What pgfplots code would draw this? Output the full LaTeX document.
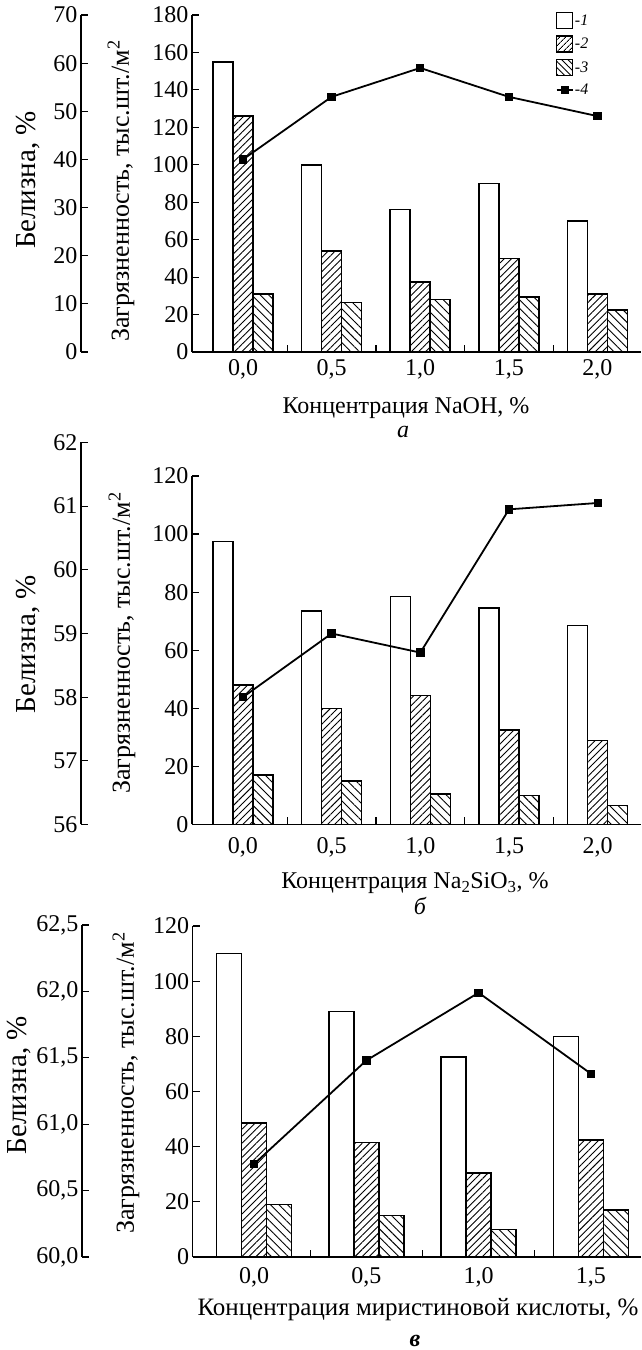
\documentclass[border=0pt]{standalone}
\usepackage{fontspec}
\setmainfont{Liberation Serif}
\usepackage{graphicx}
\usepackage{pgfplots}
\pgfplotsset{compat=1.18}
\usetikzlibrary{patterns.meta}

\newcommand{\tfont}{\fontsize{24}{27}\selectfont}
\newcommand{\xlfont}{\fontsize{24}{27}\selectfont}
\newcommand{\ylfont}{\fontsize{26}{29}\selectfont}
\newcommand{\blfont}{\fontsize{29}{32}\selectfont}

\pgfplotsset{
  mainax/.style={
    scale only axis, anchor=south west,
    axis x line=bottom, axis y line=left,
    axis line style={-, line width=1.4pt},
    every tick/.style={black, line width=1.2pt},
    tick align=inside, major tick length=7pt,
    ymin=0,
    xtick={0.5,1.5,2.5,3.5}, xticklabels={},
    tick label style={font=\tfont},
    /pgf/number format/assume math mode=true,
    clip=false,
  },
  lineax/.style={
    scale only axis, anchor=south west,
    axis x line=none, axis y line=left,
    axis line style={-, line width=1.4pt},
    every tick/.style={black, line width=1.2pt},
    tick align=inside, major tick length=7pt,
    tick label style={font=\tfont},
    /pgf/number format/assume math mode=true,
  },
  bA/.style={ybar, bar width=#1, bar shift=-#1, draw=black, line width=1.5pt, fill=white,
    legend image code/.code={\draw[black, line width=1.4pt, fill=white] (0pt,-8pt) rectangle (16pt,8pt);}},
  bB/.style={ybar, bar width=#1, bar shift=0, draw=black, line width=1.5pt,
    pattern={Lines[angle=45,distance=5pt,line width=0.9pt]}, pattern color=black,
    legend image code/.code={\draw[black, line width=1.4pt, pattern={Lines[angle=45,distance=4pt,line width=0.9pt]}] (0pt,-8pt) rectangle (16pt,8pt);}},
  bC/.style={ybar, bar width=#1, bar shift=#1, draw=black, line width=1.5pt,
    pattern={Lines[angle=-45,distance=6pt,line width=0.9pt]}, pattern color=black,
    legend image code/.code={\draw[black, line width=1.4pt, pattern={Lines[angle=-45,distance=4.5pt,line width=0.9pt]}] (0pt,-8pt) rectangle (16pt,8pt);}},
  wline/.style={black, line width=1.8pt, mark=square*, mark size=3.3pt, mark options={solid}},
}

\begin{document}
\begin{tikzpicture}
\useasboundingbox (0,0) rectangle (641pt,1350pt);
\clip (0,0) rectangle (641pt,1350pt);

% ===================== Panel a =====================
\begin{axis}[mainax, at={(192pt,998pt)}, width=449pt, height=337pt,
  xmin=-0.5756, xmax=4.492, ymax=180, ytick={0,20,...,180},
  extra x ticks={0,1,2,3,4}, extra x tick labels={{0,0},{0,5},{1,0},{1,5},{2,0}},
  extra x tick style={major tick length=0pt, xticklabel style={yshift=-4pt}},
  legend style={at={(0.81,1.01)}, anchor=north west, draw=none, fill=none,
    font=\fontsize{16}{18}\selectfont\itshape, row sep=6.5pt, inner sep=0pt,
    nodes={inner sep=1.5pt}},
  legend cell align=left]
\addplot[bA=0.2257] coordinates {(0,155) (1,100) (2,76) (3,90) (4,70)};
\addlegendentry{-1}
\addplot[bB=0.2257] coordinates {(0,126) (1,54) (2,37.5) (3,50) (4,31)};
\addlegendentry{-2}
\addplot[bC=0.2257] coordinates {(0,31) (1,26.5) (2,28) (3,29.5) (4,22.5)};
\addlegendentry{-3}
\addlegendimage{legend image code/.code={\draw[black,line width=1.6pt] (0pt,0pt) -- (16pt,0pt); \fill[black] (4.5pt,-3.5pt) rectangle (11.5pt,3.5pt);}}
\addlegendentry{-4}
\end{axis}
\begin{axis}[lineax, at={(81pt,998pt)}, width=560pt, height=337pt,
  xmin=-1.828, xmax=4.492, ymin=0, ymax=70, ytick={0,10,...,70}]
\addplot[wline] coordinates {(0,40) (1,53) (2,59) (3,53) (4,49)};
\end{axis}
\node[rotate=90, font=\blfont] at (28pt,1170pt) {Белизна, \%};
\node[rotate=90, font=\ylfont] at (121pt,1159pt) {Загрязненность, тыс.шт./м\textsuperscript{2}};
\node[font=\xlfont] at (406pt,942pt) {Концентрация NaOH, \%};
\node[font=\xlfont\itshape] at (403pt,918pt) {а};

% ===================== Panel b =====================
\begin{axis}[mainax, at={(192pt,525.5pt)}, width=449pt, height=348.5pt,
  xmin=-0.5749, xmax=4.488, ymax=120, ytick={0,20,...,120},
  extra x ticks={0,1,2,3,4}, extra x tick labels={{0,0},{0,5},{1,0},{1,5},{2,0}},
  extra x tick style={major tick length=0pt, xticklabel style={yshift=-10pt}}]
\addplot[bA=0.2255] coordinates {(0,97.5) (1,73.5) (2,78.5) (3,74.5) (4,68.5)};
\addplot[bB=0.2255] coordinates {(0,48) (1,40) (2,44.5) (3,32.5) (4,29)};
\addplot[bC=0.2255] coordinates {(0,17) (1,15) (2,10.5) (3,10) (4,6.5)};
\end{axis}
\begin{axis}[lineax, at={(81pt,525.5pt)}, width=560pt, height=382pt,
  xmin=-1.826, xmax=4.488, ymin=56, ymax=62, ytick={56,57,...,62}]
\addplot[wline] coordinates {(0,58.0) (1,59.0) (2,58.7) (3,60.95) (4,61.05)};
\end{axis}
\node[rotate=90, font=\blfont] at (28pt,706pt) {Белизна, \%};
\node[rotate=90, font=\ylfont] at (122pt,707pt) {Загрязненность, тыс.шт./м\textsuperscript{2}};
\node[font=\xlfont] at (415pt,467pt) {Концентрация Na\textsubscript{2}SiO\textsubscript{3}, \%};
\node[font=\xlfont\itshape] at (420pt,444pt) {б};

% ===================== Panel c =====================
\begin{axis}[mainax, at={(192.7pt,93pt)}, width=448.3pt, height=331pt,
  xmin=-0.546, xmax=3.446, ymax=120, ytick={0,20,...,120},
  xtick={0.5,1.5,2.5},
  extra x ticks={0,1,2,3}, extra x tick labels={{0,0},{0,5},{1,0},{1,5}},
  extra x tick style={major tick length=0pt, xticklabel style={yshift=-7pt}}]
\addplot[bA=0.2226] coordinates {(0,110) (1,89) (2,72.5) (3,80)};
\addplot[bB=0.2226] coordinates {(0,48.5) (1,41.5) (2,30.5) (3,42.5)};
\addplot[bC=0.2226] coordinates {(0,19) (1,15) (2,10) (3,17)};
\end{axis}
\begin{axis}[lineax, at={(82pt,93pt)}, width=559pt, height=332pt,
  xmin=-1.532, xmax=3.446, ymin=60, ymax=62.5, ytick={60,60.5,...,62.5},
  yticklabel style={/pgf/number format/.cd, use comma, fixed, fixed zerofill, precision=1}]
\addplot[wline] coordinates {(0,60.70) (1,61.48) (2,61.99) (3,61.38)};
\end{axis}
\node[rotate=90, font=\blfont] at (19pt,1350pt-1085pt) {Белизна, \%};
\node[rotate=90, font=\ylfont] at (126pt,267pt) {Загрязненность, тыс.шт./м\textsuperscript{2}};
\node[font=\fontsize{25}{28}\selectfont, anchor=west] at (194pt,40pt) {Концентрация миристиновой кислоты, \%};
\node[font=\xlfont\itshape\bfseries] at (415pt,9pt) {в};
\end{tikzpicture}
\end{document}
